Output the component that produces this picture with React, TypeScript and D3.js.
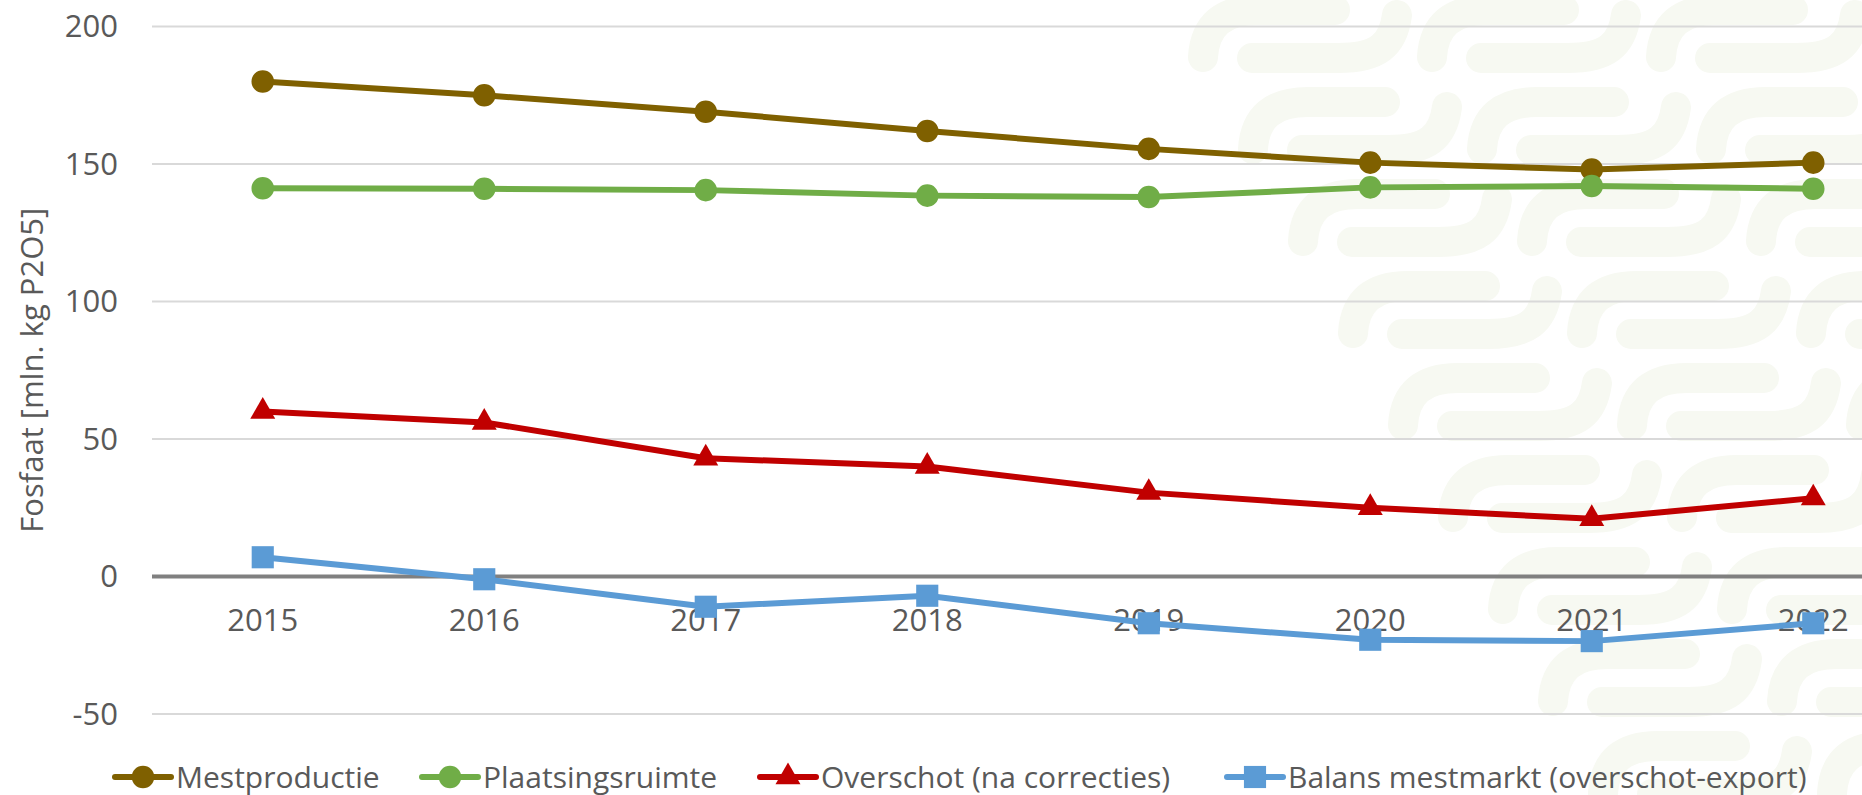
import React, { useEffect, useRef } from "react";
import * as d3 from "d3";

const years = ["2015", "2016", "2017", "2018", "2019", "2020", "2021", "2022"];
const mestproductie = [180, 175, 169, 162, 155.5, 150.5, 148, 150.5];
const plaatsingsruimte = [141.2, 141, 140.5, 138.5, 138, 141.5, 142, 141];
const overschot = [60, 56, 43, 40, 30.5, 25, 21, 28.5];
const balans = [7, -1, -11, -7, -17, -23, -23.5, -17];
const yTicks = [-50, 0, 50, 100, 150, 200];

const seriesNames = [
  "Mestproductie",
  "Plaatsingsruimte",
  "Overschot (na correcties)",
  "Balans mestmarkt (overschot-export)",
];
const seriesColors = ["#7f6000", "#70ad47", "#c00000", "#5b9bd5"];

const W = 1862;
const H = 795;
const FONT = "'Open Sans', 'Noto Sans', sans-serif";

const App = () => {
  const ref = useRef<SVGSVGElement>(null);

  useEffect(() => {
    const svg = d3.select(ref.current);
    svg.selectAll("*").remove();

    const x = d3.scaleBand().domain(years).range([152, 1924]);
    const y = d3.scaleLinear().domain([-50, 200]).range([714, 26.5]);

    svg.append("rect").attr("width", W).attr("height", H).attr("fill", "#fff");

    // faint watermark pattern (diagonal band of "S" shapes on the right)
    const bg = svg.append("g")
      .attr("fill", "none")
      .attr("stroke", "#f7f9f2")
      .attr("stroke-width", 30)
      .attr("stroke-linecap", "round");
    for (let r = 0; r < 9; r++) {
      const oy = 10 + r * 92;
      for (let c = 0; c < 4; c++) {
        const ox = 1203 + r * 50 + c * 229;
        bg.append("path")
          .attr("d", `M${ox},${oy + 47} C${ox + 2},${oy + 15} ${ox + 20},${oy} ${ox + 55},${oy} L${ox + 132},${oy}`);
        bg.append("path")
          .attr("d", `M${ox + 49},${oy + 48} L${ox + 135},${oy + 48} C${ox + 175},${oy + 48} ${ox + 190},${oy + 35} ${ox + 194},${oy + 5}`);
      }
    }

    // gridlines
    svg.append("g")
      .selectAll("line")
      .data(yTicks.filter((d) => d !== 0))
      .enter().append("line")
      .attr("x1", 152).attr("x2", 1924)
      .attr("y1", (d) => y(d)).attr("y2", (d) => y(d))
      .attr("stroke", "#d9d9d9")
      .attr("stroke-width", 2);

    // y tick labels
    svg.append("g")
      .selectAll("text")
      .data(yTicks)
      .enter().append("text")
      .attr("x", 118)
      .attr("y", (d) => y(d))
      .attr("dy", "0.35em")
      .attr("text-anchor", "end")
      .attr("font-family", FONT)
      .attr("font-size", 31)
      .attr("fill", "#595959")
      .text((d) => d);

    // y title
    svg.append("text")
      .attr("transform", `translate(43,${(y(200) + y(-50)) / 2}) rotate(-90)`)
      .attr("text-anchor", "middle")
      .attr("font-family", FONT)
      .attr("font-size", 31)
      .attr("fill", "#595959")
      .text("Fosfaat [mln. kg P2O5]");

    // zero line
    svg.append("line")
      .attr("x1", 152).attr("x2", 1924)
      .attr("y1", y(0)).attr("y2", y(0))
      .attr("stroke", "#808080")
      .attr("stroke-width", 4);

    // x labels
    svg.append("g")
      .selectAll("text")
      .data(years)
      .enter().append("text")
      .attr("x", (d) => x(d)! + x.bandwidth() / 2)
      .attr("y", y(0) + 44)
      .attr("dy", "0.35em")
      .attr("text-anchor", "middle")
      .attr("font-family", FONT)
      .attr("font-size", 31)
      .attr("fill", "#595959")
      .text((d) => d);

    const series = [mestproductie, plaatsingsruimte, overschot, balans];
    const symbols = [
      d3.symbol(d3.symbolCircle, 400),
      d3.symbol(d3.symbolCircle, 400),
      d3.symbol(d3.symbolTriangle, 270),
      d3.symbol(d3.symbolSquare, 490),
    ];

    const line = d3.line<number>()
      .x((d, i) => x(years[i])! + x.bandwidth() / 2)
      .y((d) => y(d));

    series.forEach((vals, s) => {
      const g = svg.append("g");
      g.append("path")
        .datum(vals)
        .attr("d", line)
        .attr("fill", "none")
        .attr("stroke", seriesColors[s])
        .attr("stroke-width", 6)
        .attr("stroke-linejoin", "round");
      g.selectAll("path.m")
        .data(vals)
        .enter().append("path")
        .attr("class", "m")
        .attr("d", symbols[s])
        .attr("transform", (d, i) => `translate(${x(years[i])! + x.bandwidth() / 2},${y(d)})`)
        .attr("fill", seriesColors[s]);
    });

    // legend
    const legendX = [115, 422, 760, 1227];
    const legendY = 777;
    const leg = svg.append("g");
    seriesNames.forEach((name, s) => {
      const lx = legendX[s];
      leg.append("line")
        .attr("x1", lx).attr("x2", lx + 56)
        .attr("y1", legendY).attr("y2", legendY)
        .attr("stroke", seriesColors[s])
        .attr("stroke-width", 6)
        .attr("stroke-linecap", "round");
      leg.append("path")
        .attr("d", symbols[s])
        .attr("transform", `translate(${lx + 28},${legendY})`)
        .attr("fill", seriesColors[s]);
      leg.append("text")
        .attr("x", lx + 61)
        .attr("y", legendY)
        .attr("dy", "0.35em")
        .attr("font-family", FONT)
        .attr("font-size", 30)
        .attr("fill", "#595959")
        .text(name);
    });
  }, []);

  return (
    <svg
      ref={ref}
      width={W}
      height={H}
      style={{ position: "absolute", left: 0, top: 0, display: "block" }}
    />
  );
};

export default App;
